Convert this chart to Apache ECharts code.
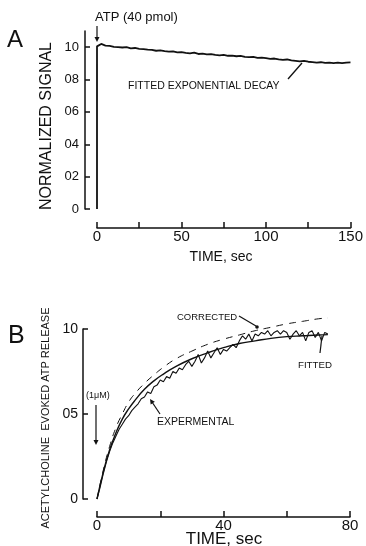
<!DOCTYPE html>
<html><head><meta charset="utf-8">
<script src="https://cdn.jsdelivr.net/npm/echarts@6/dist/echarts.min.js"></script>
<style>html,body{margin:0;padding:0;background:#fff}#c{width:366px;height:546px}</style>
</head><body><div id="c"></div>
<script>
// ---------- Panel A data ----------
const timeA = [0,0,2.5,5,7.5,10,12.5,15,17.5,20,22.5,25,27.5,30,32.5,35,37.5,40,42.5,45,47.5,50,52.5,55,57.5,60,62.5,65,67.5,70,72.5,75,77.5,80,82.5,85,87.5,90,92.5,95,97.5,100,102.5,105,107.5,110,112.5,115,117.5,120,122.5,125,127.5,130,132.5,135,137.5,140,142.5,145,147.5,150];
const signalA = [0,1.005,1.02,1.01,1.008,1.002,1.0,0.998,1.0,0.993,0.995,0.99,0.988,0.985,0.983,0.978,0.98,0.975,0.972,0.974,0.968,0.97,0.965,0.962,0.966,0.958,0.96,0.955,0.957,0.952,0.95,0.953,0.947,0.948,0.944,0.946,0.94,0.938,0.94,0.934,0.936,0.932,0.928,0.93,0.925,0.922,0.924,0.918,0.915,0.912,0.916,0.91,0.908,0.904,0.907,0.903,0.905,0.902,0.904,0.901,0.905,0.906];
const yTicksA = [0,0.2,0.4,0.6,0.8,1.0];
const yLabelsA = ['0','02','04','06','08','10'];
const xTicksA = [0,25,50,75,100,125,150];
const xLabelsA = [0,50,100,150];

// ---------- Panel B data ----------
const timeExpB = [0,1,2,3,4,5,6,7,8,9,10,11,12,13,14,15,16,17,18,19,20,21,22,23,24,25,26,27,28,29,30,31,32,33,34,35,36,37,38,39,40,41,42,43,44,45,46,47,48,49,50,51,52,53,54,55,56,57,58,59,60,61,62,63,64,65,66,67,68,69,70,71,72,73];
const expB = [0,0.07,0.15,0.22,0.28,0.33,0.37,0.41,0.44,0.47,0.49,0.52,0.54,0.56,0.59,0.60,0.63,0.62,0.66,0.67,0.70,0.69,0.72,0.71,0.75,0.74,0.77,0.76,0.79,0.81,0.78,0.81,0.85,0.80,0.83,0.87,0.83,0.86,0.89,0.85,0.88,0.87,0.89,0.91,0.89,0.93,0.96,0.94,0.97,0.93,0.97,0.96,0.98,0.97,0.99,0.96,0.98,0.99,0.97,0.99,0.98,0.94,0.97,0.99,0.96,0.98,0.93,0.98,0.99,0.95,0.98,0.93,0.98,0.97];
const timeFitB = [0,2,4,6,8,10,12,15,18,21,25,30,35,40,45,50,55,60,65,70,73];
const fitB = [0,0.16,0.29,0.39,0.47,0.53,0.58,0.645,0.695,0.735,0.78,0.825,0.86,0.89,0.915,0.93,0.945,0.955,0.96,0.965,0.967];
const corrB = [0,0.17,0.31,0.42,0.50,0.57,0.62,0.68,0.73,0.775,0.825,0.87,0.91,0.94,0.965,0.99,1.01,1.03,1.045,1.06,1.065];
const yTicksB = [0,0.5,1];
const yLabelsB = ['0','05','10'];
const xTicksB = [0,20,40,60,80];
const xLabelsB = [0,40,80];

const FF = '"Liberation Sans", Arial, sans-serif';
const INK = '#111';
const pair = (xs, ys) => xs.map((x, i) => [x, ys[i]]);
const lbl = (ticks, labels) => v => { const i = ticks.findIndex(t => Math.abs(t - v) < 1e-6); return i < 0 ? '' : labels[i]; };

function txt(x, y, text, size, opts) {
  return Object.assign({ type: 'text', x, y, silent: true,
    style: Object.assign({ text, font: size + 'px ' + FF, fill: INK, align: 'left', verticalAlign: 'middle' }, (opts && opts.style) || {}) },
    opts && opts.rotation ? { rotation: opts.rotation } : {});
}
function seg(x1, y1, x2, y2, w) {
  return { type: 'line', silent: true, shape: { x1, y1, x2, y2 }, style: { stroke: INK, lineWidth: w || 1.2 } };
}
function head(x, y, dx, dy) {
  const L = Math.hypot(dx, dy), ux = dx / L, uy = dy / L, s = 5, w = 2.5;
  return { type: 'polygon', silent: true, shape: { points: [[x, y], [x - ux * s - uy * w, y - uy * s + ux * w], [x - ux * s + uy * w, y - uy * s - ux * w]] }, style: { fill: INK } };
}

const lineSt = { color: INK, width: 1.5 };
const chart = echarts.init(document.getElementById('c'), null, { renderer: 'canvas' });
chart.setOption({
  backgroundColor: '#fff',
  animation: false,
  grid: [
    { left: 97, top: 31, width: 255, height: 178 },
    { left: 97, top: 329, width: 253, height: 170 }
  ],
  xAxis: [
    { type: 'value', gridIndex: 0, min: 0, max: 150, interval: 25, offset: 19, splitLine: { show: false },
      axisLine: { show: true, onZero: false, lineStyle: lineSt },
      axisTick: { show: true, inside: true, length: 6, lineStyle: lineSt },
      axisLabel: { margin: 1, fontSize: 15, color: INK, fontFamily: FF, formatter: v => xLabelsA.includes(v) ? String(v) : '' } },
    { type: 'value', gridIndex: 1, min: 0, max: 80, interval: 20, offset: 18, splitLine: { show: false },
      axisLine: { show: true, onZero: false, lineStyle: lineSt },
      axisTick: { show: true, inside: true, length: 6, lineStyle: lineSt },
      axisLabel: { margin: 1, fontSize: 15, color: INK, fontFamily: FF, formatter: v => xLabelsB.includes(v) ? String(v) : '' } }
  ],
  yAxis: [
    { type: 'value', gridIndex: 0, min: 0, max: 1.1, offset: 12, splitLine: { show: false },
      axisLine: { show: true, onZero: false, lineStyle: lineSt },
      axisTick: { show: true, inside: true, length: 5, customValues: yTicksA, lineStyle: lineSt },
      axisLabel: { customValues: yTicksA, margin: 6, fontSize: 13, color: INK, fontFamily: FF, formatter: lbl(yTicksA, yLabelsA) } },
    { type: 'value', gridIndex: 1, min: 0, max: 1, interval: 0.5, offset: 14, splitLine: { show: false },
      axisLine: { show: true, onZero: false, lineStyle: lineSt },
      axisTick: { show: true, inside: true, length: 5, lineStyle: lineSt },
      axisLabel: { margin: 5, fontSize: 14, color: INK, fontFamily: FF, padding: [0, 0, 4, 0], formatter: lbl(yTicksB, yLabelsB) } }
  ],
  series: [
    { type: 'line', xAxisIndex: 0, yAxisIndex: 0, data: pair(timeA, signalA), showSymbol: false, symbol: 'none',
      lineStyle: { color: INK, width: 1.8 }, clip: false },
    { type: 'line', xAxisIndex: 1, yAxisIndex: 1, data: pair(timeExpB, expB), showSymbol: false, symbol: 'none',
      lineStyle: { color: INK, width: 1.1 }, clip: false },
    { type: 'line', xAxisIndex: 1, yAxisIndex: 1, data: pair(timeFitB, fitB), showSymbol: false, symbol: 'none', smooth: true,
      lineStyle: { color: INK, width: 1.4 }, clip: false },
    { type: 'line', xAxisIndex: 1, yAxisIndex: 1, data: pair(timeFitB, corrB), showSymbol: false, symbol: 'none', smooth: true,
      lineStyle: { color: INK, width: 1, type: [7, 6] }, clip: false }
  ],
  graphic: [
    txt(7, 40, 'A', 24),
    txt(95, 17, 'ATP (40 pmol)', 13),
    seg(97, 26, 97, 38, 1.2), head(97, 42, 0, 1),
    txt(47, 126, 'NORMALIZED SIGNAL', 16, { rotation: Math.PI / 2, style: { align: 'center' } }),
    txt(128, 86, 'FITTED EXPONENTIAL DECAY', 10.5),
    seg(288, 79, 302, 63, 1.3),
    txt(221, 257, 'TIME, sec', 14, { style: { align: 'center' } }),
    txt(8, 336, 'B', 25),
    txt(46, 418, 'ACETYLCHOLINE  EVOKED ATP RELEASE', 11, { rotation: Math.PI / 2, style: { align: 'center' } }),
    txt(177, 317, 'CORRECTED', 9.5),
    seg(239, 316, 256, 326, 1.2),
    { type: 'circle', silent: true, shape: { cx: 257, cy: 327, r: 1.8 }, style: { fill: INK } },
    txt(298, 365, 'FITTED', 9.7),
    seg(320, 353, 322, 336, 1.2),
    txt(157, 422, 'EXPERMENTAL', 10.5),
    seg(160, 414, 152, 402, 1.2), head(150, 399, -2, -3),
    txt(86, 396, '(1\u03bcM)', 9),
    seg(96, 405, 96, 440, 1.2), head(96, 445, 0, 1),
    txt(224, 539, 'TIME, sec', 17, { style: { align: 'center' } })
  ]
});
</script>
</body></html>
